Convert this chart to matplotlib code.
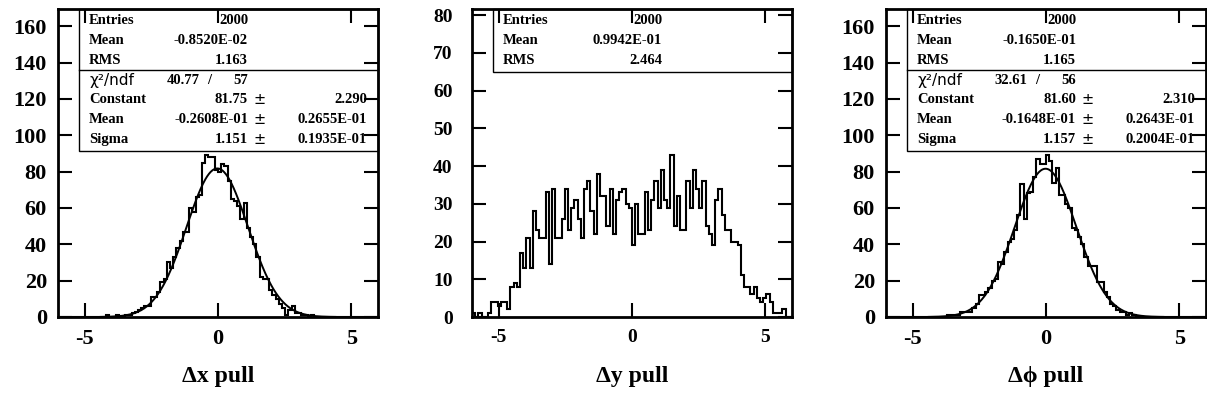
import numpy as np
import matplotlib.pyplot as plt
from matplotlib.patches import Rectangle

plt.rcParams['font.family'] = ['Liberation Serif', 'DejaVu Serif']
plt.rcParams['font.weight'] = 'bold'
plt.rcParams['axes.unicode_minus'] = False

# 100 bins over [-6, 6]
edges = np.linspace(-6, 6, 101)

dx_counts = [0] * 15 + [
    1, 0, 0, 1, 0, 0, 1, 1, 2, 3, 4, 5, 6, 6,
    11, 11, 14, 19, 21, 30, 27, 33, 38, 42, 47, 47,
    60, 58, 66, 67, 85, 89, 88, 88, 81, 80,
    84, 83, 75, 65, 64, 61, 54, 63, 49, 44,
    40, 33, 22, 21, 21, 15, 12, 10, 7, 5,
    1, 4, 6, 2, 2, 1, 1, 0, 1,
] + [0] * 20

dy_counts = [
    1, 0, 1, 0, 0, 1, 4, 4, 3, 4,
    4, 2, 8, 9, 8, 17, 13, 21, 13, 28,
    23, 21, 21, 33, 14, 34, 21, 21, 26, 34,
    23, 29, 31, 26, 21, 34, 36, 28, 22, 38,
    32, 32, 24, 34, 22, 31, 33, 34, 30, 29,
    19, 30, 22, 22, 33, 23, 31, 36, 29, 39,
    31, 29, 43, 24, 32, 23, 23, 36, 29, 39,
    34, 29, 36, 24, 22, 19, 31, 34, 27, 23,
    23, 20, 20, 19, 11, 8, 8, 6, 8, 5,
    4, 5, 6, 4, 1, 1, 1, 2, 0, 0,
]

dphi_counts = [0] * 19 + [
    1, 1, 1, 1, 3, 3, 3, 3, 5, 7,
    12, 12, 14, 16, 20, 21, 30, 29, 36, 41,
    43, 48, 56, 73, 54, 68, 69, 77, 87, 84,
    84, 89, 86, 74, 82, 67, 67, 62, 60, 49,
    48, 44, 40, 33, 28, 28, 28, 19, 19, 14,
    11, 7, 6, 4, 3, 3, 1, 2, 1,
] + [0] * 22

# gaussian fit results: constant, mean, sigma
dx_fit = (81.75, -0.2608e-01, 1.151)
dphi_fit = (81.60, -0.1648e-01, 1.157)

dx_stats = [("Entries", "2000"), ("Mean", "-0.8520E-02"), ("RMS", "1.163")]
dy_stats = [("Entries", "2000"), ("Mean", "0.9942E-01"), ("RMS", "2.464")]
dphi_stats = [("Entries", "2000"), ("Mean", "-0.1650E-01"), ("RMS", "1.165")]

dx_fit_rows = [("Constant", "81.75", "2.290"),
               ("Mean", "-0.2608E-01", "0.2655E-01"),
               ("Sigma", "1.151", "0.1935E-01")]
dphi_fit_rows = [("Constant", "81.60", "2.310"),
                 ("Mean", "-0.1648E-01", "0.2643E-01"),
                 ("Sigma", "1.157", "0.2004E-01")]
dx_chi2 = ("40.77", "57")
dphi_chi2 = ("32.61", "56")

x_labels = ["Δx pull", "Δy pull", "Δϕ pull"]

W, H = 1207, 405
fig = plt.figure(figsize=(W / 100, H / 100), dpi=100)

lefts = [58, 472, 886]
axes = [fig.add_axes([l / W, (H - 317) / H, 320 / W, 308 / H]) for l in lefts]

row_top = 0.962
row_step = 0.0643
lab_x, val_x, pm_x, err_x = 0.097, 0.594, 0.612, 0.966
box_x = 0.0656
fs = 10.5


def stat_box(ax, stats, chi2=None, fit_rows=None):
    nrows = len(stats) + (0 if fit_rows is None else 1 + len(fit_rows))
    bottom = row_top - (nrows - 0.5) * row_step - 0.005
    ax.add_patch(Rectangle((box_x, bottom), 1 - box_x, 1 - bottom,
                           transform=ax.transAxes, fill=False,
                           lw=1.0, ec='black', zorder=1, clip_on=False))
    row = 0
    for name, val in stats:
        y = row_top - row * row_step
        ax.text(lab_x, y, name, transform=ax.transAxes, fontsize=fs,
                va='center', ha='left')
        ax.text(val_x, y, val, transform=ax.transAxes, fontsize=fs,
                va='center', ha='right')
        row += 1
    if fit_rows is None:
        return
    ysep = row_top - (row - 0.5) * row_step
    ax.plot([box_x, 1], [ysep, ysep], transform=ax.transAxes,
            color='black', lw=1.0, zorder=1, clip_on=False)
    y = row_top - row * row_step
    ax.text(lab_x, y, "χ²/ndf", transform=ax.transAxes, fontsize=11,
            va='center', ha='left', family='DejaVu Sans', weight='normal')
    ax.text(0.443, y, chi2[0], transform=ax.transAxes, fontsize=fs,
            va='center', ha='right')
    ax.text(0.472, y, "/", transform=ax.transAxes, fontsize=fs,
            va='center', ha='center')
    ax.text(val_x, y, chi2[1], transform=ax.transAxes, fontsize=fs,
            va='center', ha='right')
    row += 1
    for name, val, err in fit_rows:
        y = row_top - row * row_step
        ax.text(lab_x, y, name, transform=ax.transAxes, fontsize=fs,
                va='center', ha='left')
        ax.text(val_x, y, val, transform=ax.transAxes, fontsize=fs,
                va='center', ha='right')
        ax.text(pm_x, y, "±", transform=ax.transAxes, fontsize=fs,
                va='center', ha='left', family='DejaVu Sans', weight='normal')
        ax.text(err_x, y, err, transform=ax.transAxes, fontsize=fs,
                va='center', ha='right')
        row += 1


panels = [
    (dx_counts, dx_fit, dx_stats, dx_chi2, dx_fit_rows, 169.5, 20, 16, 8),
    (dy_counts, None, dy_stats, None, None, 81.6, 10, 14, 14),
    (dphi_counts, dphi_fit, dphi_stats, dphi_chi2, dphi_fit_rows, 169.5, 20, 16, 8),
]

for ax, (counts, fit, stats, chi2, fit_rows, ymax, ystep, tsize, ypad), xl in zip(axes, panels, x_labels):
    ax.stairs(counts, edges, color='black', lw=1.5, baseline=None)
    if fit is not None:
        const, mean, sigma = fit
        xs = np.linspace(-4.4, 4.4, 400)
        ax.plot(xs, const * np.exp(-0.5 * ((xs - mean) / sigma) ** 2),
                color='black', lw=1.4)
    ax.set_xlim(-6, 6)
    ax.set_ylim(0, ymax)
    ax.set_xticks([-5, 0, 5])
    ax.set_yticks(np.arange(0, ymax, ystep))
    ax.tick_params(direction='in', length=10, width=1.5, top=True, right=True,
                   labelsize=tsize)
    ax.tick_params(axis='y', pad=ypad)
    ax.tick_params(axis='x', pad=9)
    for s in ax.spines.values():
        s.set_linewidth(2.0)
        s.set_zorder(5)
    ax.set_xlabel(xl, fontsize=17, weight='bold')
    ax.xaxis.set_label_coords(0.5, -0.16)
    stat_box(ax, stats, chi2, fit_rows)

fig.savefig("out.png", dpi=100)
